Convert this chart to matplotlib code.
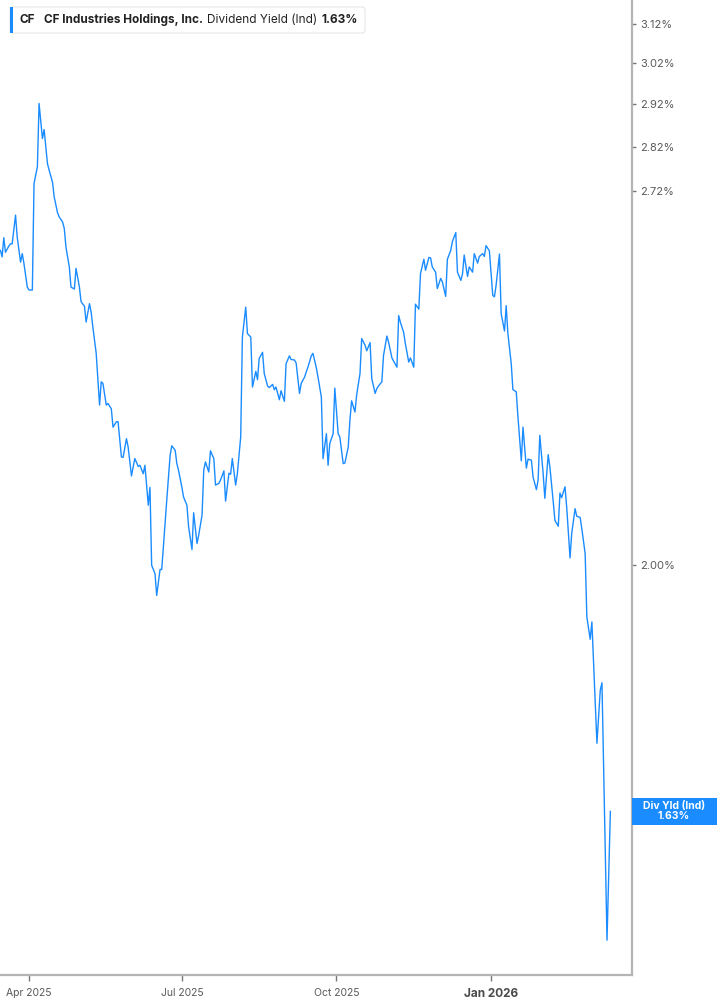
import matplotlib
matplotlib.use("Agg")
import matplotlib.pyplot as plt
from matplotlib.ticker import FixedLocator, NullLocator, FuncFormatter
from matplotlib.patches import FancyBboxPatch, Rectangle
from matplotlib.transforms import IdentityTransform
import pandas as pd

# dividend yield (%)
dates = [
    "2025-03-15", "2025-03-16", "2025-03-17", "2025-03-18", "2025-03-20", "2025-03-21",
    "2025-03-22", "2025-03-24", "2025-03-25", "2025-03-27", "2025-03-28", "2025-03-29",
    "2025-03-31", "2025-04-01", "2025-04-03", "2025-04-04", "2025-04-06", "2025-04-07",
    "2025-04-09", "2025-04-10", "2025-04-12", "2025-04-13", "2025-04-15", "2025-04-16",
    "2025-04-18", "2025-04-19", "2025-04-21", "2025-04-22", "2025-04-23", "2025-04-25",
    "2025-04-26", "2025-04-28", "2025-04-29", "2025-05-01", "2025-05-02", "2025-05-04",
    "2025-05-05", "2025-05-07", "2025-05-08", "2025-05-09", "2025-05-11", "2025-05-13",
    "2025-05-14", "2025-05-15", "2025-05-17", "2025-05-18", "2025-05-20", "2025-05-21",
    "2025-05-23", "2025-05-24", "2025-05-26", "2025-05-27", "2025-05-29", "2025-05-30",
    "2025-06-01", "2025-06-02", "2025-06-03", "2025-06-05", "2025-06-06", "2025-06-08",
    "2025-06-09", "2025-06-11", "2025-06-12", "2025-06-13", "2025-06-15", "2025-06-16",
    "2025-06-18", "2025-06-19", "2025-06-21", "2025-06-22", "2025-06-24", "2025-06-25",
    "2025-06-27", "2025-06-28", "2025-06-29", "2025-07-01", "2025-07-02", "2025-07-04",
    "2025-07-05", "2025-07-07", "2025-07-08", "2025-07-10", "2025-07-11", "2025-07-13",
    "2025-07-14", "2025-07-15", "2025-07-17", "2025-07-18", "2025-07-20", "2025-07-21",
    "2025-07-23", "2025-07-24", "2025-07-26", "2025-07-27", "2025-07-29", "2025-07-30",
    "2025-07-31", "2025-08-02", "2025-08-03", "2025-08-05", "2025-08-06", "2025-08-08",
    "2025-08-09", "2025-08-11", "2025-08-12", "2025-08-14", "2025-08-15", "2025-08-16",
    "2025-08-18", "2025-08-19", "2025-08-21", "2025-08-22", "2025-08-24", "2025-08-25",
    "2025-08-26", "2025-08-28", "2025-08-29", "2025-08-31", "2025-09-01", "2025-09-03",
    "2025-09-04", "2025-09-06", "2025-09-07", "2025-09-09", "2025-09-10", "2025-09-12",
    "2025-09-13", "2025-09-14", "2025-09-16", "2025-09-17", "2025-09-19", "2025-09-20",
    "2025-09-22", "2025-09-23", "2025-09-25", "2025-09-26", "2025-09-27", "2025-09-29",
    "2025-09-30", "2025-10-02", "2025-10-03", "2025-10-05", "2025-10-06", "2025-10-08",
    "2025-10-09", "2025-10-10", "2025-10-12", "2025-10-13", "2025-10-15", "2025-10-16",
    "2025-10-18", "2025-10-19", "2025-10-21", "2025-10-22", "2025-10-24", "2025-10-25",
    "2025-10-26", "2025-10-28", "2025-10-29", "2025-10-31", "2025-11-01", "2025-11-03",
    "2025-11-04", "2025-11-06", "2025-11-07", "2025-11-08", "2025-11-10", "2025-11-11",
    "2025-11-13", "2025-11-14", "2025-11-16", "2025-11-17", "2025-11-19", "2025-11-20",
    "2025-11-22", "2025-11-23", "2025-11-25", "2025-11-26", "2025-11-27", "2025-11-29",
    "2025-11-30", "2025-12-02", "2025-12-03", "2025-12-05", "2025-12-06", "2025-12-08",
    "2025-12-09", "2025-12-11", "2025-12-12", "2025-12-14", "2025-12-15", "2025-12-16",
    "2025-12-18", "2025-12-19", "2025-12-21", "2025-12-22", "2025-12-24", "2025-12-25",
    "2025-12-27", "2025-12-28", "2025-12-29", "2025-12-31", "2026-01-02", "2026-01-03",
    "2026-01-04", "2026-01-06", "2026-01-07", "2026-01-09", "2026-01-10", "2026-01-11",
    "2026-01-13", "2026-01-14", "2026-01-16", "2026-01-17", "2026-01-19", "2026-01-20",
    "2026-01-22", "2026-01-23", "2026-01-25", "2026-01-26", "2026-01-28", "2026-01-29",
    "2026-01-30", "2026-02-01", "2026-02-02", "2026-02-04", "2026-02-05", "2026-02-07",
    "2026-02-08", "2026-02-10", "2026-02-11", "2026-02-12", "2026-02-14", "2026-02-15",
    "2026-02-17", "2026-02-18", "2026-02-20", "2026-02-21", "2026-02-23", "2026-02-24",
    "2026-02-26", "2026-02-27", "2026-03-01", "2026-03-02", "2026-03-05", "2026-03-07",
    "2026-03-08", "2026-03-11", "2026-03-13",
]
yields = [
    2.590, 2.576, 2.617, 2.586, 2.599, 2.604,
    2.604, 2.666, 2.618, 2.565, 2.583, 2.562,
    2.513, 2.507, 2.507, 2.736, 2.774, 2.922,
    2.839, 2.860, 2.781, 2.766, 2.739, 2.706,
    2.671, 2.662, 2.651, 2.637, 2.597, 2.555,
    2.513, 2.509, 2.552, 2.513, 2.483, 2.474,
    2.442, 2.479, 2.462, 2.432, 2.380, 2.281,
    2.325, 2.322, 2.281, 2.284, 2.274, 2.240,
    2.250, 2.250, 2.186, 2.185, 2.219, 2.204,
    2.152, 2.168, 2.183, 2.169, 2.171, 2.156,
    2.171, 2.101, 2.132, 2.000, 1.986, 1.951,
    1.993, 1.993, 2.072, 2.110, 2.189, 2.206,
    2.198, 2.174, 2.162, 2.132, 2.115, 2.101,
    2.064, 2.026, 2.088, 2.036, 2.050, 2.084,
    2.162, 2.177, 2.159, 2.197, 2.183, 2.136,
    2.139, 2.145, 2.161, 2.108, 2.157, 2.155,
    2.183, 2.136, 2.156, 2.222, 2.412, 2.472,
    2.419, 2.412, 2.315, 2.345, 2.329, 2.370,
    2.382, 2.341, 2.317, 2.314, 2.320, 2.310,
    2.315, 2.291, 2.308, 2.288, 2.360, 2.375,
    2.368, 2.367, 2.361, 2.303, 2.322, 2.334,
    2.344, 2.353, 2.375, 2.380, 2.352, 2.334,
    2.296, 2.183, 2.228, 2.171, 2.210, 2.228,
    2.313, 2.228, 2.222, 2.174, 2.175, 2.204,
    2.253, 2.289, 2.268, 2.300, 2.341, 2.409,
    2.396, 2.385, 2.401, 2.331, 2.303, 2.312,
    2.317, 2.325, 2.376, 2.414, 2.402, 2.371,
    2.365, 2.353, 2.455, 2.442, 2.421, 2.399,
    2.363, 2.371, 2.353, 2.478, 2.468, 2.541,
    2.571, 2.548, 2.575, 2.574, 2.555, 2.544,
    2.510, 2.531, 2.524, 2.494, 2.571, 2.590,
    2.609, 2.628, 2.544, 2.527, 2.540, 2.580,
    2.535, 2.555, 2.544, 2.583, 2.563, 2.577,
    2.583, 2.577, 2.600, 2.589, 2.496, 2.493,
    2.517, 2.582, 2.459, 2.424, 2.475, 2.419,
    2.360, 2.310, 2.306, 2.259, 2.179, 2.240,
    2.166, 2.182, 2.180, 2.150, 2.128, 2.145,
    2.225, 2.156, 2.113, 2.190, 2.168, 2.107,
    2.075, 2.065, 2.122, 2.114, 2.133, 2.098,
    2.012, 2.053, 2.095, 2.082, 2.080, 2.061,
    2.019, 1.917, 1.882, 1.909, 1.728, 1.805,
    1.816, 1.470, 1.634,
]
ytick_vals = [2.00, 2.72, 2.82, 2.92, 3.02, 3.12]
xtick_dates = ["2025-04-01", "2025-07-01", "2025-10-01", "2026-01-01"]
xtick_labels = ["Apr 2025", "Jul 2025", "Oct 2025", "Jan 2026"]

ticker = "CF"
company = "CF Industries Holdings, Inc."
metric = "Dividend Yield (Ind)"
last_val = yields[-1]

blue = "#1a8cff"
axis_gray = "#b4b4b4"
text_gray = "#5a5a5a"

plt.rcParams["font.family"] = ["Inter", "DejaVu Sans"]

W, H = 717, 1005
fig = plt.figure(figsize=(W / 100, H / 100), dpi=100)
ax = fig.add_axes([0, 30 / H, 632 / W, 975 / H])

ax.plot(pd.to_datetime(dates), yields, color=blue, lw=1.0)

ax.set_yscale("log")
ax.set_ylim(1.4286, 3.181)
ax.set_xlim(pd.Timestamp("2025-03-14 18:00"), pd.Timestamp("2026-03-25 21:00"))

ax.yaxis.tick_right()
ax.yaxis.set_major_locator(FixedLocator(ytick_vals))
ax.yaxis.set_minor_locator(NullLocator())
ax.yaxis.set_major_formatter(FuncFormatter(lambda v, p: f"{v:.2f}%"))
ax.tick_params(axis="y", which="major", direction="out", length=3, width=1,
               color="#777777", labelsize=8, labelcolor=text_gray, pad=3)

ax.set_xticks(pd.to_datetime(xtick_dates))
ax.set_xticklabels(xtick_labels)
ax.tick_params(axis="x", direction="out", length=4, width=1, color="#777777",
               labelsize=7.5, labelcolor=text_gray, pad=5)
lbl = ax.get_xticklabels()[-1]
lbl.set_fontweight("bold")
lbl.set_fontsize(8.5)
lbl.set_color("#4a4a4a")

for s in ["left", "top"]:
    ax.spines[s].set_visible(False)
for s in ["right", "bottom"]:
    ax.spines[s].set_color(axis_gray)
    ax.spines[s].set_linewidth(1.6)

# legend box in the top left
px = IdentityTransform()
fig.add_artist(FancyBboxPatch((10, H - 33), 355, 26, boxstyle="round,pad=0,rounding_size=3",
                              transform=px, facecolor="white", edgecolor="#e6e6e6", lw=0.8))
fig.add_artist(Rectangle((10, H - 33), 3, 26, transform=px, facecolor=blue, edgecolor="none"))
ty = 1 - 20 / H
fig.text(20 / W, ty, ticker, fontsize=8.5, fontweight="bold", color="#222222", va="center")
fig.text(44 / W, ty, company, fontsize=8.5, fontweight="bold", color="#222222", va="center")
fig.text(207 / W, ty, metric, fontsize=8.5, color="#222222", va="center")
fig.text(322 / W, ty, f"{last_val:.2f}%", fontsize=8.5, fontweight="bold", color="#222222", va="center")

# last value tag on the right axis
fig.canvas.draw()
yp = ax.transData.transform((ax.get_xlim()[1], last_val))[1]
fig.add_artist(Rectangle((632, yp - 13.5), 85, 27, transform=px, facecolor=blue, edgecolor="none"))
fig.text(674 / W, yp / H, f"Div Yld (Ind)\n{last_val:.2f}%", fontsize=7.5, fontweight="bold",
         color="white", ha="center", va="center", linespacing=1.0)

fig.savefig("out.png", dpi=100)
